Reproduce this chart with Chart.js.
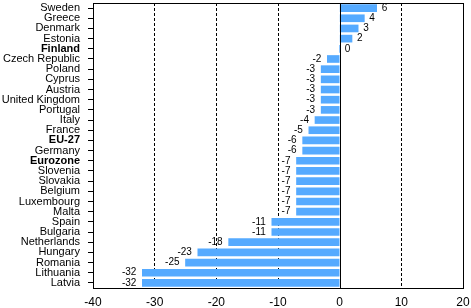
<!DOCTYPE html>
<html lang="en">
<head>
  <meta charset="UTF-8">
  <title>Change by country</title>
  <script src="https://cdn.jsdelivr.net/npm/chart.js"></script>
  <style>
    html, body { margin: 0; padding: 0; background: #fff; }
    #wrap { width: 471px; height: 308px; }
  </style>
</head>
<body>
  <div id="wrap"><canvas id="chart"></canvas></div>

  <script>
    const countries = ["Sweden", "Greece", "Denmark", "Estonia", "Finland", "Czech Republic", "Poland", "Cyprus",
      "Austria", "United Kingdom", "Portugal", "Italy", "France", "EU-27", "Germany", "Eurozone", "Slovenia",
      "Slovakia", "Belgium", "Luxembourg", "Malta", "Spain", "Bulgaria", "Netherlands", "Hungary", "Romania",
      "Lithuania", "Latvia"];
    const values = [6, 4, 3, 2, 0, -2, -3, -3, -3, -3, -3, -4, -5, -6, -6, -7, -7, -7, -7, -7, -7, -11, -11,
      -18, -23, -25, -32, -32];
    const boldNames = ["Finland", "EU-27", "Eurozone"];
    const xTicks = [-40, -30, -20, -10, 0, 10, 20];

    const FONT = "'Liberation Sans', Arial, sans-serif";

    // value labels next to bar ends, plus frame and zero line
    const barLabels = {
      id: "barLabels",
      afterDatasetsDraw(chart) {
        const ctx = chart.ctx;
        const meta = chart.getDatasetMeta(0);
        ctx.save();
        ctx.font = "10px " + FONT;
        ctx.fillStyle = "#000";
        ctx.textBaseline = "middle";
        meta.data.forEach((bar, i) => {
          const v = values[i];
          if (v >= 0) {
            ctx.textAlign = "left";
            ctx.fillText(String(v), bar.x + 5, bar.y);
          } else {
            ctx.textAlign = "right";
            ctx.fillText(String(v), bar.x - 6, bar.y);
          }
        });
        ctx.restore();
      },
      afterDraw(chart) {
        const { ctx, chartArea: a } = chart;
        const x0 = Math.round(chart.scales.x.getPixelForValue(0)) + 0.5;
        ctx.save();
        ctx.strokeStyle = "#000";
        ctx.lineWidth = 1;
        ctx.beginPath();
        ctx.moveTo(x0, a.top);
        ctx.lineTo(x0, a.bottom);
        ctx.stroke();
        ctx.strokeRect(Math.round(a.left) + 0.5, Math.round(a.top) + 0.5,
          Math.round(a.right - a.left), Math.round(a.bottom - a.top));
        ctx.restore();
      }
    };

    new Chart(document.getElementById("chart"), {
      type: "bar",
      data: {
        labels: countries,
        datasets: [{
          data: values,
          backgroundColor: "#55aaff",
          barThickness: 7
        }]
      },
      options: {
        indexAxis: "y",
        responsive: true,
        maintainAspectRatio: false,
        animation: false,
        layout: { padding: { top: 3, right: 8, left: 0, bottom: 0 } },
        plugins: { legend: { display: false }, tooltip: { enabled: false } },
        scales: {
          x: {
            min: -40,
            max: 20,
            afterBuildTicks: s => { s.ticks = xTicks.map(v => ({ value: v })); },
            afterFit: s => { s.height = 20; s.paddingLeft = 0; s.paddingRight = 0; },
            border: { display: false, dash: [3, 2] },
            grid: {
              drawTicks: false,
              color: c => [-30, -20, -10, 10].includes(c.tick && c.tick.value) ? "#000" : "transparent"
            },
            ticks: { color: "#000", padding: 7, font: { family: FONT, size: 12 } }
          },
          y: {
            afterFit: s => { s.width = 93; s.paddingTop = 0; s.paddingBottom = 0; },
            border: { display: false },
            grid: { offset: false, drawOnChartArea: false, drawTicks: true, tickLength: 5, tickColor: "#000" },
            ticks: {
              color: "#000",
              padding: 8,
              autoSkip: false,
              font: c => ({
                family: FONT,
                size: 11,
                weight: boldNames.includes(countries[c.index]) ? "bold" : "normal"
              })
            }
          }
        }
      },
      plugins: [barLabels]
    });
  </script>
</body>
</html>
